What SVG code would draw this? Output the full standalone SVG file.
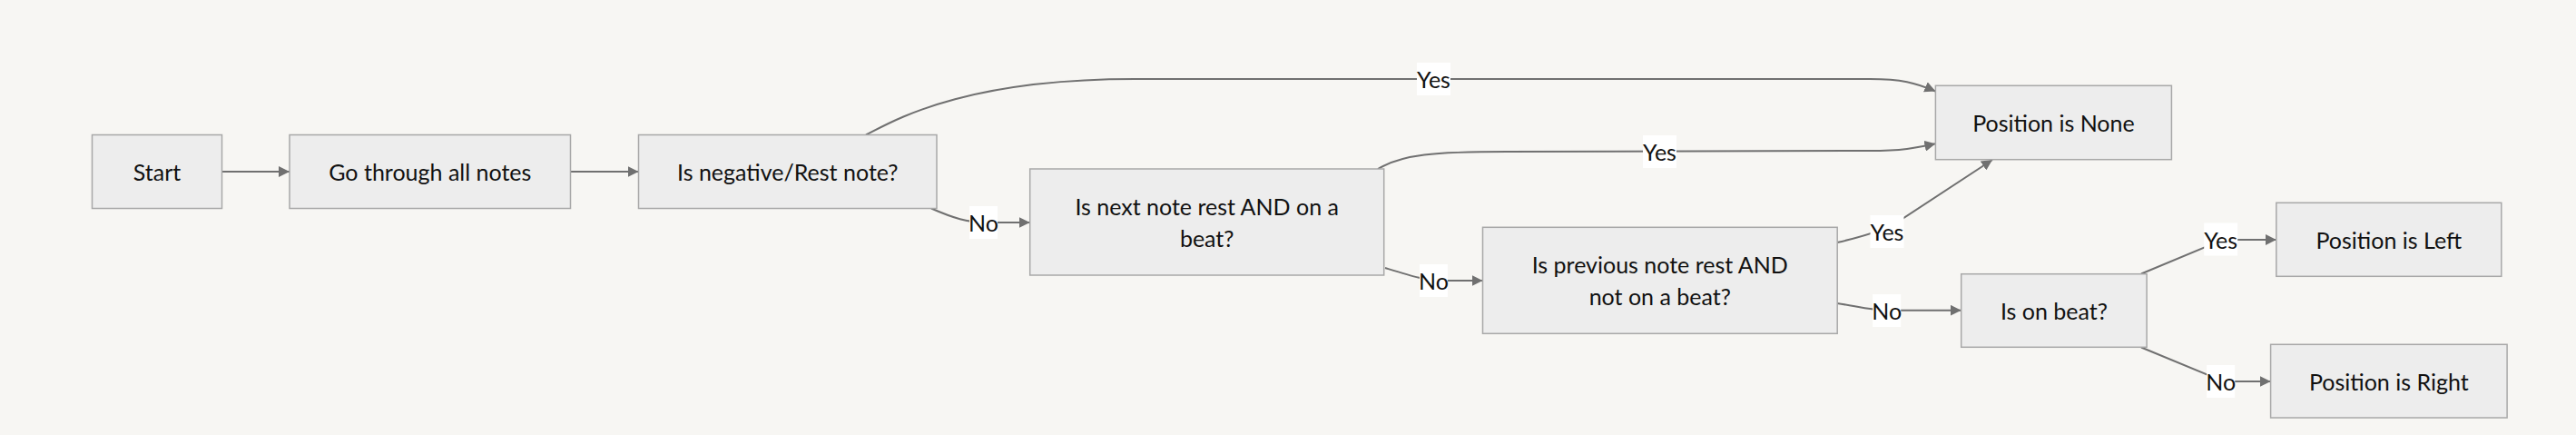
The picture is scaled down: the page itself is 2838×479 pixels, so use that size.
<svg xmlns="http://www.w3.org/2000/svg" width="2838" height="479" viewBox="0 0 2838 479">
<style>
.bg{fill:#f7f6f3}
.node rect{fill:#ededed;stroke:#a8a8a8;stroke-width:1.5}
.node text,.lbl text{font-family:Lato,"Liberation Sans",sans-serif;font-size:25px;fill:#111;text-anchor:middle;dominant-baseline:central}
.edge{fill:none;stroke:#707070;stroke-width:2;marker-end:url(#arr)}
.lbl rect{fill:#ffffff}
</style>
<defs>
<marker id="arr" viewBox="0 0 12 12" refX="12" refY="6" markerWidth="12" markerHeight="12" markerUnits="userSpaceOnUse" orient="auto">
<path d="M0,0 L12,6 L0,12 z" fill="#707070"/>
</marker>
</defs>
<rect class="bg" x="0" y="0" width="2838" height="479"/>
<g id="connectors">
<path class="edge" d="M245,189 L319,189"/>
<path class="edge" d="M628.5,189 L703.5,189"/>
<path class="edge" d="M954,148.5 C985,133 1060,87 1250,87 L2060,87 C2095,87 2110,91 2132.4,100.5"/>
<path class="edge" d="M1026,229.5 C1050,240 1065,245 1090,245 L1134.7,245"/>
<path class="edge" d="M1518,186 C1545,170 1580,167 1660,167 L2060,166 C2095,166 2110,163 2132.4,158.3"/>
<path class="edge" d="M1526,295 C1555,304 1570,309 1595,309 L1633.5,309"/>
<path class="edge" d="M2024,267 Q2060,259 2085,248 L2195,176"/>
<path class="edge" d="M2024,334 C2045,337 2060,341.7 2080,341.7 L2160.7,341.7"/>
<path class="edge" d="M2359,301.5 L2430,272 Q2440,264 2455,264 L2507.8,264"/>
<path class="edge" d="M2359,382.5 L2433,413 Q2440,420 2455,420 L2501.6,420"/>
<g class="lbl"><rect x="1561" y="69" width="37" height="36"/><text x="1579.5" y="87">Yes</text></g>
<g class="lbl"><rect x="1068" y="227" width="31" height="36"/><text x="1083.5" y="245">No</text></g>
<g class="lbl"><rect x="1810" y="149" width="37" height="36"/><text x="1828.5" y="167">Yes</text></g>
<g class="lbl"><rect x="1563.9" y="291" width="31" height="36"/><text x="1579.4" y="309">No</text></g>
<g class="lbl"><rect x="2060.5" y="237" width="37" height="36"/><text x="2079" y="255">Yes</text></g>
<g class="lbl"><rect x="2063.2" y="324" width="31" height="36"/><text x="2078.7" y="342">No</text></g>
<g class="lbl"><rect x="2428.2" y="245.5" width="37" height="36"/><text x="2446.7" y="263.5">Yes</text></g>
<g class="lbl"><rect x="2431.2" y="402" width="31" height="36"/><text x="2446.7" y="420">No</text></g>
</g>
<g id="start" class="node"><rect x="101.5" y="148.5" width="143" height="81"/><text x="173" y="189">Start</text></g>
<g id="go" class="node"><rect x="319" y="148.5" width="309.5" height="81"/><text x="473.8" y="189">Go through all notes</text></g>
<g id="neg" class="node"><rect x="703.5" y="148.5" width="328.5" height="81"/><text x="867.8" y="189">Is negative/Rest note?</text></g>
<g id="next" class="node"><rect x="1134.7" y="186" width="390" height="117"/><text x="1329.7" y="227">Is next note rest AND on a</text><text x="1329.7" y="262">beat?</text></g>
<g id="prev" class="node"><rect x="1633.5" y="250.3" width="390.7" height="117"/><text x="1828.8" y="291">Is previous note rest AND</text><text x="1828.8" y="326">not on a beat?</text></g>
<g id="none" class="node"><rect x="2132.4" y="94.3" width="260" height="81.4"/><text x="2262.4" y="135">Position is None</text></g>
<g id="onbeat" class="node"><rect x="2160.7" y="301.7" width="204.4" height="80.6"/><text x="2262.9" y="342">Is on beat?</text></g>
<g id="left" class="node"><rect x="2507.8" y="223.3" width="248" height="81"/><text x="2631.8" y="263.8">Position is Left</text></g>
<g id="right" class="node"><rect x="2501.6" y="379.3" width="260.5" height="80.7"/><text x="2631.8" y="419.7">Position is Right</text></g>
</svg>
